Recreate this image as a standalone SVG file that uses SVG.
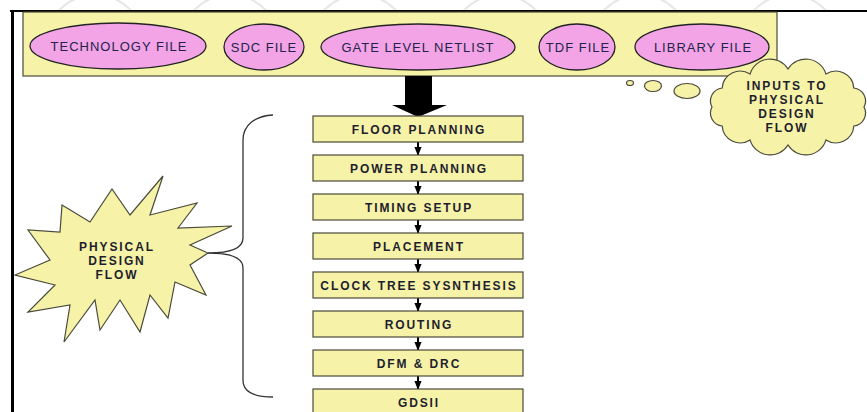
<svg xmlns="http://www.w3.org/2000/svg" width="867" height="412" viewBox="0 0 867 412">
<style>
.yel{fill:#F6F2A8;stroke:#4a4a3a;stroke-width:1.2}
.ell{fill:#F2A4E6;stroke:#222;stroke-width:1.3}
.et{font-family:"Liberation Sans",Arial,sans-serif;font-size:13px;fill:#23234a;text-anchor:middle;letter-spacing:1px}
.bt{font-family:"Liberation Sans",Arial,sans-serif;font-size:12px;font-weight:bold;fill:#1e1e2e;text-anchor:middle;letter-spacing:1.9px}
.con{stroke:#000;stroke-width:2;fill:none;marker-end:url(#ah)}
.wm{fill:none;stroke:#e6e6e6;stroke-width:2}
</style>
<defs>
<marker id="ah" viewBox="0 0 10 8" refX="9" refY="4" markerWidth="4.5" markerHeight="3.6" orient="auto" markerUnits="strokeWidth">
<path d="M0,0 L10,4 L0,8 Z" fill="#000"/>
</marker>
<clipPath id="topclip"><rect x="0" y="0" width="867" height="10"/></clipPath>
</defs>
<rect width="867" height="412" fill="#fff"/>
<g clip-path="url(#topclip)">
<circle class="wm" cx="95" cy="45" r="50"/>
<circle class="wm" cx="230" cy="45" r="50"/>
<circle class="wm" cx="360" cy="45" r="50"/>
<circle class="wm" cx="500" cy="45" r="50"/>
<circle class="wm" cx="640" cy="45" r="50"/>
<circle class="wm" cx="790" cy="45" r="50"/>
</g>
<g id="frame">
<line x1="10" y1="11" x2="867" y2="11" stroke="#000" stroke-width="2"/>
<line x1="12.5" y1="10" x2="12.5" y2="412" stroke="#000" stroke-width="3"/>
</g>
<g id="inputs">
<rect class="yel" x="23" y="12" width="754" height="64"/>
<g id="technology-file"><ellipse class="ell" cx="118" cy="46" rx="88" ry="23"/><text class="et" x="119" y="51">TECHNOLOGY  FILE</text></g>
<g id="sdc-file"><ellipse class="ell" cx="264" cy="47" rx="40" ry="23"/><text class="et" x="264" y="52">SDC FILE</text></g>
<g id="gate-level-netlist"><ellipse class="ell" cx="418" cy="47" rx="97" ry="23"/><text class="et" x="418" y="52">GATE LEVEL NETLIST</text></g>
<g id="tdf-file"><ellipse class="ell" cx="577" cy="47" rx="38" ry="23"/><text class="et" x="578" y="52">TDF FILE</text></g>
<g id="library-file"><ellipse class="ell" cx="702" cy="47" rx="67" ry="23"/><text class="et" x="703" y="52">LIBRARY FILE</text></g>
</g>
<g id="callout-inputs">
<ellipse class="yel" cx="630" cy="83" rx="3.5" ry="2.5" stroke="#222"/>
<ellipse class="yel" cx="653" cy="86" rx="8.5" ry="5.5" stroke="#222"/>
<ellipse class="yel" cx="687" cy="91" rx="13" ry="7.5" stroke="#222"/>
<path class="yel" stroke="#222" d="M864,107 A13,13 0 0 1 853.8,126 A18,18 0 0 1 826,139.9 A21,21 0 0 1 788,145 A21,21 0 0 1 750,139.9 A18,18 0 0 1 722.2,126 A13,13 0 0 1 712,107 A13,13 0 0 1 722.2,88 A18,18 0 0 1 750,74.1 A21,21 0 0 1 788,69 A21,21 0 0 1 826,74.1 A18,18 0 0 1 853.8,88 A13,13 0 0 1 864,107 Z"/>
<text class="bt" x="787" y="90">INPUTS TO</text>
<text class="bt" x="787" y="104">PHYSICAL</text>
<text class="bt" x="787" y="118">DESIGN</text>
<text class="bt" x="787" y="132">FLOW</text>
</g>
<g id="callout-flow">
<path class="yel" stroke="#333" d="M163,176 L150,215 L197,203 L178,228 L232,226 L190,245 L208,253 L190,265 L206,295 L175,282 L168,318 L150,295 L140,332 L120,300 L100,330 L95,300 L64,342 L70,305 L28,312 L55,285 L15,275 L50,260 L28,230 L60,232 L62,205 L90,222 L112,189 L130,215 Z"/>
<text class="bt" x="117" y="251">PHYSICAL</text>
<text class="bt" x="117" y="265">DESIGN</text>
<text class="bt" x="117" y="279">FLOW</text>
</g>
<g id="brace">
<path d="M273,115 C255,116 243,125 243,140 L243,238 C243,248 230,253 208,253 C230,253 243,258 243,268 L243,380 C243,392 255,397 273,397" fill="none" stroke="#333" stroke-width="1.3"/>
</g>
<g id="connectors">
<path d="M405,76 L432,76 L432,105 L447,105 L418,117 L392,105 L405,105 Z" fill="#000"/>
<line class="con" x1="418" y1="142" x2="418" y2="155"/>
<line class="con" x1="418" y1="181" x2="418" y2="194"/>
<line class="con" x1="418" y1="220" x2="418" y2="233"/>
<line class="con" x1="418" y1="259" x2="418" y2="272"/>
<line class="con" x1="418" y1="298" x2="418" y2="311"/>
<line class="con" x1="418" y1="337" x2="418" y2="350"/>
<line class="con" x1="418" y1="376" x2="418" y2="389"/>
</g>
<g id="floor-planning"><rect class="yel" x="313" y="116" width="210" height="26"/><text class="bt" x="419" y="133.5">FLOOR PLANNING</text></g>
<g id="power-planning"><rect class="yel" x="313" y="155" width="210" height="26"/><text class="bt" x="419" y="172.5">POWER PLANNING</text></g>
<g id="timing-setup"><rect class="yel" x="313" y="194" width="210" height="26"/><text class="bt" x="419" y="211.5">TIMING SETUP</text></g>
<g id="placement"><rect class="yel" x="313" y="233" width="210" height="26"/><text class="bt" x="419" y="250.5">PLACEMENT</text></g>
<g id="clock-tree-synthesis"><rect class="yel" x="313" y="272" width="210" height="26"/><text class="bt" x="419" y="289.5">CLOCK TREE SYSNTHESIS</text></g>
<g id="routing"><rect class="yel" x="313" y="311" width="210" height="26"/><text class="bt" x="419" y="328.5">ROUTING</text></g>
<g id="dfm-drc"><rect class="yel" x="313" y="350" width="210" height="26"/><text class="bt" x="419" y="367.5">DFM &amp; DRC</text></g>
<g id="gdsii"><rect class="yel" x="313" y="389" width="210" height="26"/><text class="bt" x="419" y="406.5">GDSII</text></g>
</svg>
